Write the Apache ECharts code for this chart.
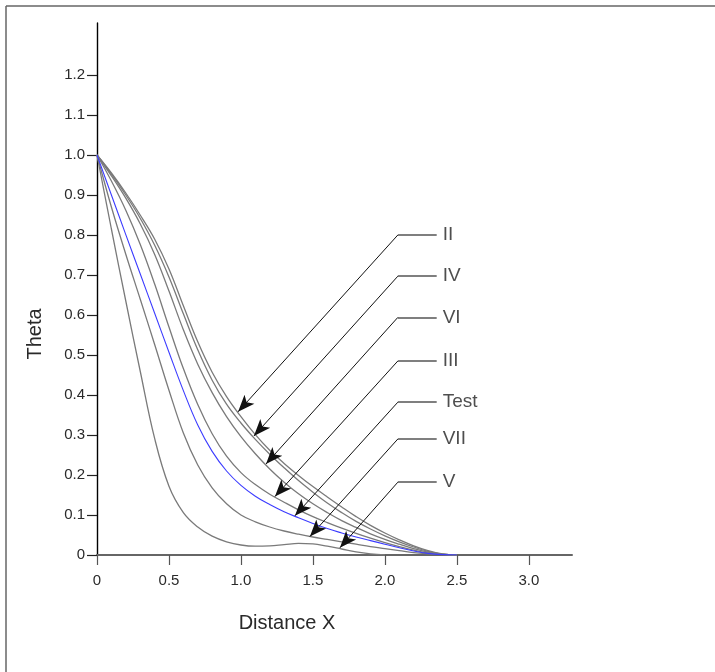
<!DOCTYPE html>
<html>
<head>
<meta charset="utf-8">
<script src="https://cdn.jsdelivr.net/npm/echarts@6/dist/echarts.min.js"></script>
<style>
  html, body { margin: 0; padding: 0; background: #fff; }
  #chart { width: 715px; height: 672px; }
</style>
</head>
<body>
<div id="chart"></div>
<script>
// x positions shared by all curves
var xs = [0, 0.1, 0.2, 0.3, 0.4, 0.5, 0.6, 0.7, 0.8, 0.9, 1.0, 1.1, 1.2,
          1.3, 1.4, 1.5, 1.6, 1.7, 1.8, 1.9, 2.0, 2.1, 2.2, 2.3, 2.4, 2.5]

// Theta values per curve
var curveII   = [1, 0.955, 0.905, 0.85, 0.79, 0.715, 0.623, 0.533, 0.457, 0.396, 0.346, 0.301, 0.262, 0.229, 0.199, 0.171, 0.145, 0.12, 0.096, 0.074, 0.055, 0.038, 0.023, 0.011, 0.003, 0]
var curveIV   = [1, 0.952, 0.9, 0.842, 0.775, 0.695, 0.603, 0.513, 0.437, 0.377, 0.33, 0.289, 0.252, 0.218, 0.186, 0.157, 0.13, 0.106, 0.084, 0.065, 0.048, 0.033, 0.02, 0.009, 0.002, 0]
var curveVI   = [1, 0.948, 0.892, 0.828, 0.752, 0.66, 0.563, 0.477, 0.406, 0.346, 0.296, 0.253, 0.215, 0.182, 0.153, 0.128, 0.106, 0.086, 0.069, 0.053, 0.039, 0.027, 0.016, 0.007, 0.002, 0]
var curveIII  = [1, 0.935, 0.862, 0.777, 0.678, 0.57, 0.466, 0.376, 0.303, 0.247, 0.206, 0.176, 0.152, 0.132, 0.113, 0.096, 0.081, 0.067, 0.054, 0.042, 0.031, 0.021, 0.012, 0.005, 0.001, 0]
var curveTest = [1, 0.9, 0.801, 0.703, 0.605, 0.507, 0.411, 0.325, 0.259, 0.21, 0.174, 0.147, 0.126, 0.108, 0.093, 0.079, 0.066, 0.055, 0.045, 0.036, 0.027, 0.018, 0.01, 0.004, 0.001, 0]
var curveVII  = [1, 0.87, 0.752, 0.64, 0.527, 0.412, 0.305, 0.225, 0.168, 0.128, 0.1, 0.083, 0.07, 0.06, 0.052, 0.045, 0.039, 0.033, 0.027, 0.021, 0.016, 0.011, 0.006, 0.003, 0.001, 0]
var curveV    = [1, 0.815, 0.635, 0.46, 0.292, 0.172, 0.106, 0.07, 0.047, 0.033, 0.025, 0.022, 0.023, 0.026, 0.029, 0.028, 0.022, 0.015, 0.008, 0.003, 0, null, null, null, null, null]

// annotation labels, the arrow tips on the curves and the label heights
var labelNames = ['II', 'IV', 'VI', 'III', 'Test', 'VII', 'V']
var labelY = [0.8, 0.697, 0.594, 0.485, 0.382, 0.29, 0.182]
var tipX = [0.98, 1.09, 1.174, 1.236, 1.375, 1.479, 1.6875]
var tipY = [0.358, 0.2975, 0.2275, 0.146, 0.098, 0.046, 0.018]
var elbowX = 2.09
var labelLineEndX = 2.36

// axis ticks
var yTicks = [0, 0.1, 0.2, 0.3, 0.4, 0.5, 0.6, 0.7, 0.8, 0.9, 1.0, 1.1, 1.2]
var xTicks = [0, 0.5, 1.0, 1.5, 2.0, 2.5, 3.0]

var chart = echarts.init(document.getElementById('chart'))

function pairs(ys) {
    var out = []
    for (var i = 0; i < xs.length; i++) {
        out.push([xs[i], ys[i]])
    }
    return out
}

function curve(name, ys, color, width) {
    return {
        name: name,
        type: 'line',
        data: pairs(ys),
        showSymbol: false,
        smooth: 0.4,
        connectNulls: false,
        lineStyle: { color: color, width: width },
        silent: true,
        z: 3
    }
}

var flatLines = []
var arrowLines = []
var labelPoints = []
for (var i = 0; i < labelNames.length; i++) {
    flatLines.push({ coords: [[labelLineEndX, labelY[i]], [elbowX, labelY[i]]] })
    arrowLines.push({ coords: [[elbowX, labelY[i]], [tipX[i], tipY[i]]] })
    labelPoints.push({ value: [labelLineEndX, labelY[i]], name: labelNames[i] })
}

var font = 'Liberation Sans, Arial, sans-serif'

var option = {
    animation: false,
    backgroundColor: '#fff',
    grid: { left: 97, top: 23, width: 475, height: 532 },
    xAxis: {
        type: 'value',
        min: 0,
        max: 3.3,
        interval: 0.5,
        axisLine: { lineStyle: { color: '#666', width: 2 } },
        axisTick: { length: 10, lineStyle: { color: '#555', width: 1.2 }, customValues: xTicks },
        axisLabel: {
            customValues: xTicks,
            margin: 18,
            fontSize: 15,
            fontFamily: font,
            color: '#2a2a2a',
            formatter: function (v) { return v === 0 ? '0' : v.toFixed(1) }
        },
        splitLine: { show: false }
    },
    yAxis: {
        type: 'value',
        min: 0,
        max: 1.33,
        interval: 0.1,
        axisLine: { lineStyle: { color: '#000', width: 1.4 } },
        axisTick: { length: 10, lineStyle: { color: '#222', width: 1.2 }, customValues: yTicks },
        axisLabel: {
            customValues: yTicks,
            margin: 12,
            fontSize: 15,
            fontFamily: font,
            color: '#2a2a2a',
            formatter: function (v) { return v === 0 ? '0' : v.toFixed(1) }
        },
        splitLine: { show: false }
    },
    graphic: [
        // frame round the picture
        { type: 'line', shape: { x1: 6, y1: 6, x2: 715, y2: 6 }, style: { stroke: '#666', lineWidth: 1.5 } },
        { type: 'line', shape: { x1: 6, y1: 6, x2: 6, y2: 672 }, style: { stroke: '#666', lineWidth: 1.5 } },
        // axis titles
        { type: 'text', x: 287, y: 623, style: { text: 'Distance X', fontSize: 20, fontFamily: font, fill: '#2a2a2a', align: 'center', verticalAlign: 'middle' } },
        { type: 'text', x: 35, y: 334, rotation: Math.PI / 2, style: { text: 'Theta', fontSize: 20, fontFamily: font, fill: '#2a2a2a', align: 'center', verticalAlign: 'middle' } }
    ],
    series: [
        curve('II', curveII, '#7a7a7a', 1.3),
        curve('IV', curveIV, '#7a7a7a', 1.3),
        curve('VI', curveVI, '#7a7a7a', 1.3),
        curve('III', curveIII, '#7a7a7a', 1.3),
        curve('VII', curveVII, '#7a7a7a', 1.3),
        curve('V', curveV, '#7a7a7a', 1.3),
        curve('Test', curveTest, '#3c3cff', 1.1),
        {
            type: 'lines',
            coordinateSystem: 'cartesian2d',
            data: flatLines,
            symbol: ['none', 'none'],
            lineStyle: { color: '#555', width: 1.5, opacity: 1, curveness: 0 },
            silent: true,
            z: 4
        },
        {
            type: 'lines',
            coordinateSystem: 'cartesian2d',
            data: arrowLines,
            symbol: ['none', 'arrow'],
            symbolSize: [1, [10, 17]],
            lineStyle: { color: '#111', width: 1, opacity: 1, curveness: 0 },
            silent: true,
            z: 4
        },
        {
            type: 'scatter',
            data: labelPoints,
            symbolSize: 0,
            silent: true,
            label: {
                show: true,
                position: 'right',
                distance: 6,
                formatter: '{b}',
                fontSize: 19,
                fontFamily: font,
                color: '#222'
            },
            z: 5
        }
    ]
}

chart.setOption(option)
window.addEventListener('resize', chart.resize)
</script>
</body>
</html>
